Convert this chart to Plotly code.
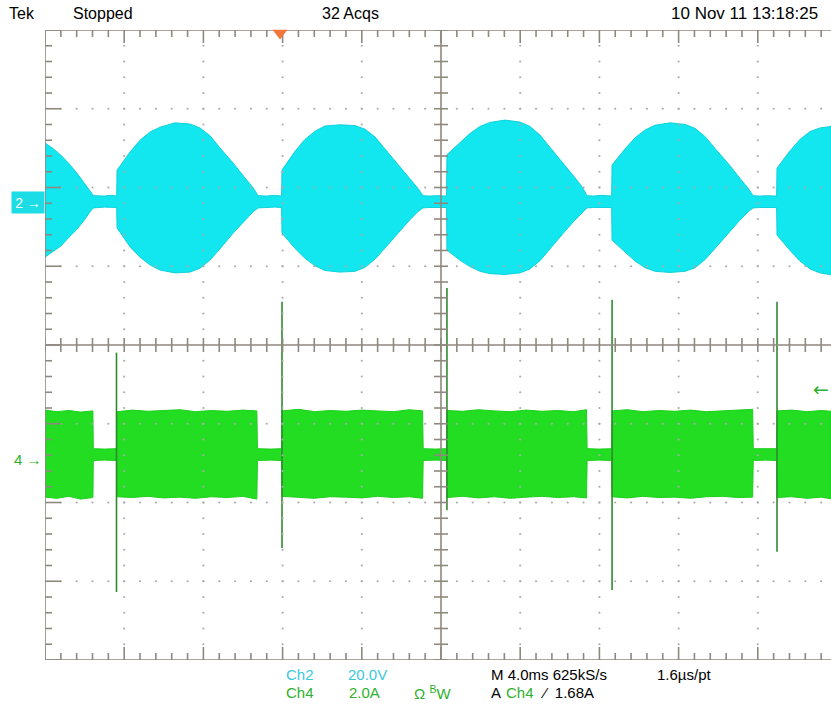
import plotly.graph_objects as go

# ---------------- data (time: ms from screen centre, Ch2: V, Ch4: A) ----------------
ch2_t = [-20.0, -19.6, -19.2, -18.8, -18.4, -18.0, -17.7, -17.55, -17.0, -16.7, -16.38,
         -16.36, -15.70, -15.20, -14.69, -14.19, -13.43, -12.67, -12.17, -11.66, -11.16, -10.50, -9.90, -9.49, -9.24,
         -8.8, -8.4, -8.05,
         -8.03, -7.37, -6.87, -6.36, -5.86, -5.10, -4.34, -3.84, -3.33, -2.83, -2.17, -1.57, -1.16, -0.91,
         -0.6, -0.2, 0.28,
         0.30, 0.96, 1.46, 1.97, 2.47, 3.23, 3.99, 4.49, 5.00, 5.50, 6.16, 6.76, 7.17, 7.37,
         7.7, 8.1, 8.62,
         8.64, 9.30, 9.80, 10.31, 10.81, 11.57, 12.33, 12.83, 13.34, 13.84, 14.50, 15.10, 15.51, 15.76,
         16.1, 16.5, 16.95,
         16.97, 17.63, 18.13, 18.64, 19.14, 19.70]
ch2_hi = [15.0, 13.6, 11.9, 9.8, 7.4, 4.6, 2.4, 1.6, 1.5, 1.7, 1.5,
          8.1, 12.7, 15.7, 17.8, 19.0, 20.1, 19.8, 18.8, 16.8, 13.7, 9.9, 6.1, 3.6, 1.6,
          1.5, 1.7, 1.5,
          8.1, 12.9, 15.9, 18.0, 19.3, 19.6, 19.4, 18.5, 16.5, 13.5, 9.7, 6.0, 3.4, 1.6,
          1.5, 1.6, 1.5,
          12.0, 15.2, 17.4, 19.2, 20.2, 20.8, 20.3, 19.2, 17.0, 13.9, 10.0, 6.2, 3.5, 1.6,
          1.5, 1.7, 1.5,
          9.4, 13.5, 16.3, 18.3, 19.5, 20.1, 19.7, 18.7, 16.6, 13.6, 9.8, 6.0, 3.5, 1.6,
          1.5, 1.6, 1.5,
          8.6, 13.0, 15.9, 17.9, 18.8, 19.2]
ch2_lo = [-14.0, -12.6, -11.2, -9.0, -7.0, -4.5, -2.3, -1.5, -1.3, -1.4, -1.4,
          -6.6, -11.4, -14.0, -16.0, -17.3, -18.0, -17.8, -16.8, -14.7, -11.9, -7.9, -4.6, -2.5, -1.5,
          -1.4, -1.3, -1.4,
          -7.9, -11.8, -14.3, -16.2, -17.4, -17.8, -17.6, -16.6, -14.5, -11.7, -7.8, -4.5, -2.4, -1.5,
          -1.4, -1.3, -1.4,
          -12.2, -14.8, -16.4, -17.6, -18.2, -18.4, -18.0, -17.0, -14.9, -12.0, -8.0, -4.6, -2.5, -1.5,
          -1.4, -1.3, -1.4,
          -9.7, -12.8, -15.0, -16.7, -17.6, -17.9, -17.6, -16.7, -14.6, -11.8, -7.9, -4.6, -2.5, -1.5,
          -1.4, -1.3, -1.4,
          -8.4, -12.3, -15.0, -17.0, -18.0, -18.5]

ch4_t = [-20.0, -19.4, -18.8, -18.2, -17.58,
         -17.56, -17.0, -16.38,
         -16.36, -15.6, -14.8, -14.0, -13.2, -12.4, -11.6, -10.8, -10.0, -9.30,
         -9.27, -8.6, -8.05,
         -8.03, -7.2, -6.4, -5.6, -4.8, -4.0, -3.2, -2.4, -1.6, -0.93,
         -0.90, -0.3, 0.28,
         0.30, 1.1, 1.9, 2.7, 3.5, 4.3, 5.1, 5.9, 6.7, 7.35,
         7.38, 8.0, 8.62,
         8.64, 9.4, 10.2, 11.0, 11.8, 12.6, 13.4, 14.2, 15.0, 15.74,
         15.77, 16.4, 16.95,
         16.97, 17.7, 18.5, 19.2, 19.70]
ch4_hi = [1.14, 1.10, 1.13, 1.09, 1.12,
          0.16, 0.15, 0.16,
          1.10, 1.14, 1.11, 1.13, 1.15, 1.10, 1.13, 1.11, 1.14, 1.12,
          0.16, 0.15, 0.16,
          1.12, 1.16, 1.10, 1.13, 1.11, 1.14, 1.12, 1.10, 1.15, 1.12,
          0.16, 0.15, 0.16,
          1.13, 1.11, 1.15, 1.12, 1.10, 1.14, 1.11, 1.13, 1.10, 1.15,
          0.16, 0.15, 0.16,
          1.12, 1.15, 1.10, 1.13, 1.11, 1.14, 1.10, 1.12, 1.13, 1.16,
          0.16, 0.15, 0.16,
          1.12, 1.14, 1.10, 1.13, 1.11]
ch4_lo = [-1.07, -1.10, -1.05, -1.12, -1.08,
          -0.14, -0.13, -0.14,
          -1.06, -1.08, -1.05, -1.09, -1.07, -1.10, -1.06, -1.08, -1.05, -1.12,
          -0.14, -0.13, -0.14,
          -1.05, -1.08, -1.10, -1.06, -1.07, -1.09, -1.05, -1.08, -1.06, -1.10,
          -0.14, -0.13, -0.14,
          -1.08, -1.05, -1.09, -1.06, -1.10, -1.07, -1.05, -1.08, -1.06, -1.09,
          -0.14, -0.13, -0.14,
          -1.06, -1.09, -1.05, -1.08, -1.07, -1.10, -1.06, -1.05, -1.08, -1.07,
          -0.14, -0.13, -0.14,
          -1.08, -1.06, -1.10, -1.07, -1.11]

spike_t = [-16.39, -8.03, 0.30, 8.64, 16.97]
spike_hi = [2.60, 3.89, 4.24, 3.94, 3.89]
spike_lo = [-3.48, -2.36, -1.40, -3.43, -2.46]

trigger_t = -8.13          # ms, trigger position marker
trigger_level = 1.68       # A, Ch4 trigger level

top_texts = ["Tek", "Stopped", "32 Acqs", "10 Nov 11 13:18:25"]

# ---------------- screen geometry ----------------
W, H = 831, 710
ML, MR, MT, MB = 45, 0, 30, 50
PW, PH = W - ML - MR, H - MT - MB
DIV_PX_X = 79.2
DIV_PX_Y = PH / 8.0
MS_PER_DIV = 4.0
X0 = -20.0
X1 = X0 + PW / DIV_PX_X * MS_PER_DIV
CH2_ZERO_PX, CH4_ZERO_PX = 202.0, 455.0
V_PER_DIV, A_PER_DIV = 20.0, 2.0
c2_off = (MT + PH / 2 - CH2_ZERO_PX) / DIV_PX_Y
c4_off = (MT + PH / 2 - CH4_ZERO_PX) / DIV_PX_Y
Y2RANGE = [-(4 + c2_off) * V_PER_DIV, (4 - c2_off) * V_PER_DIV]
Y4RANGE = [-(4 + c4_off) * A_PER_DIV, (4 - c4_off) * A_PER_DIV]

MS_PER_PX = MS_PER_DIV / DIV_PX_X
DIV_PER_PX = 1.0 / DIV_PX_Y

GRID = "#8e897f"
DOT = "#ababab"
CYAN = "#12e6ee"
GREEN = "#22dd22"
SPIKE = "#2f8a2f"
TXT_CYAN = "#3cc8dc"
TXT_GREEN = "#2fb12f"
FONT = "Liberation Sans, Arial, sans-serif"

fig = go.Figure()

# ---------------- graticule ----------------
majors_x = [X0 + k * MS_PER_DIV for k in range(11)]
minor_x = [X0 + k * MS_PER_DIV / 5 for k in range(51)]
minor_y = [k * 0.2 for k in range(41)]

dx, dy = [], []
for k, xm in enumerate(majors_x):
    if k in (0, 5) or xm > X1:
        continue
    for yv in minor_y:
        dx.append(xm); dy.append(yv)
for j in range(1, 8):
    if j == 4:
        continue
    for xv in minor_x:
        if xv <= X1:
            dx.append(xv); dy.append(j)
fig.add_trace(go.Scatter(x=dx, y=dy, yaxis="y3", mode="markers",
                         marker=dict(size=2.2, color=DOT), hoverinfo="skip", showlegend=False))

lx, ly = [], []
def seg(x0, y0, x1, y1):
    lx.extend([x0, x1, None]); ly.extend([y0, y1, None])

# borders and centre cross
seg(X0, 0, X0, 8)
seg(X0, 8, X1 + 1, 8)
seg(X0, 0, X1 + 1, 0)
seg(0, 0, 0, 8)
seg(X0, 4, X1 + 1, 4)
minor_len_y = 7 * DIV_PER_PX
major_len_y = 13 * DIV_PER_PX
minor_len_x = 7 * MS_PER_PX
major_len_x = 16 * MS_PER_PX
for i, xv in enumerate(minor_x):
    if xv > X1:
        continue
    is_major = (i % 5 == 0)
    L = major_len_y if is_major else minor_len_y
    seg(xv, 8, xv, 8 - L)
    seg(xv, 0, xv, L)
    seg(xv, 4 - minor_len_y, xv, 4 + minor_len_y)
for i, yv in enumerate(minor_y):
    is_major = (i % 5 == 0)
    L = major_len_x if is_major else minor_len_x
    seg(X0, yv, X0 + L, yv)
    seg(-minor_len_x, yv, minor_len_x, yv)
fig.add_trace(go.Scatter(x=lx, y=ly, yaxis="y3", mode="lines",
                         line=dict(color=GRID, width=1.6), hoverinfo="skip",
                         showlegend=False, cliponaxis=False))

# ---------------- Ch2 waveform ----------------
fig.add_trace(go.Scatter(x=ch2_t + ch2_t[::-1], y=ch2_hi + ch2_lo[::-1], yaxis="y",
                         mode="lines", fill="toself", fillcolor=CYAN,
                         line=dict(color="#10d2da", width=1), hoverinfo="skip", showlegend=False))

# ---------------- Ch4 waveform ----------------
fig.add_trace(go.Scatter(x=ch4_t + ch4_t[::-1], y=ch4_hi + ch4_lo[::-1], yaxis="y2",
                         mode="lines", fill="toself", fillcolor=GREEN,
                         line=dict(color="#1ccf1c", width=1), hoverinfo="skip", showlegend=False))
sx, sy = [], []
for t, hi, lo in zip(spike_t, spike_hi, spike_lo):
    sx.extend([t, t, None]); sy.extend([lo, hi, None])
fig.add_trace(go.Scatter(x=sx, y=sy, yaxis="y2", mode="lines",
                         line=dict(color=SPIKE, width=1.6), hoverinfo="skip", showlegend=False))

# trigger position marker
fig.add_trace(go.Scatter(x=[trigger_t], y=[8 - 3 * DIV_PER_PX], yaxis="y3", mode="markers",
                         marker=dict(symbol="triangle-down", size=13, color="#f0773a"),
                         hoverinfo="skip", showlegend=False, cliponaxis=False))

# ---------------- text ----------------
def px2paper(xp, yp):
    return (xp - ML) / PW, (MT + PH - yp) / PH

def label(text, xp, yp, color="black", size=15, xanchor="left", **kw):
    px, py = px2paper(xp, yp)
    fig.add_annotation(text=text, x=px, y=py, xref="paper", yref="paper",
                       xanchor=xanchor, yanchor="middle", showarrow=False,
                       font=dict(family=FONT, size=size, color=color), **kw)

label(top_texts[0], 7, 13, size=16)
label(top_texts[1], 71, 13, size=16)
label(top_texts[2], 320, 13, size=16)
label(top_texts[3], 820, 13, size=17, xanchor="right")

label("Ch2", 284, 674, TXT_CYAN)
label("20.0V", 346, 674, TXT_CYAN)
label("M 4.0ms 625kS/s", 489, 674)
label("1.6µs/pt", 655, 674)
label("Ch4", 284, 692, TXT_GREEN)
label("2.0A", 347, 692, TXT_GREEN)
label("Ω <sup>B</sup>W", 412, 692, TXT_GREEN)
label("A", 489, 692)
label("Ch4", 504, 692, TXT_GREEN)
label("⁄  1.68A", 538, 692)

# channel markers
label("2 →", 45, 202, "white", 14, xanchor="right", bgcolor="#1cdde6",
      width=30, height=19, borderpad=1)
label("4 →", 44, 459, TXT_GREEN, 15, xanchor="right")
fig.add_annotation(text="←", x=1, y=trigger_level, xref="paper", yref="y2",
                   xanchor="right", yanchor="middle", showarrow=False,
                   font=dict(family="DejaVu Sans", size=19, color=TXT_GREEN))

fig.update_layout(
    width=W, height=H,
    margin=dict(l=ML, r=MR, t=MT, b=MB, pad=0),
    paper_bgcolor="white", plot_bgcolor="white",
    showlegend=False,
    xaxis=dict(range=[X0, X1], visible=False, fixedrange=True),
    yaxis=dict(range=Y2RANGE, visible=False),
    yaxis2=dict(range=Y4RANGE, visible=False, overlaying="y"),
    yaxis3=dict(range=[0, 8], visible=False, overlaying="y"),
)

fig.write_html("out.html", config={"displayModeBar": False},
               post_script="document.body.style.margin='0px';document.body.style.overflow='hidden';")
